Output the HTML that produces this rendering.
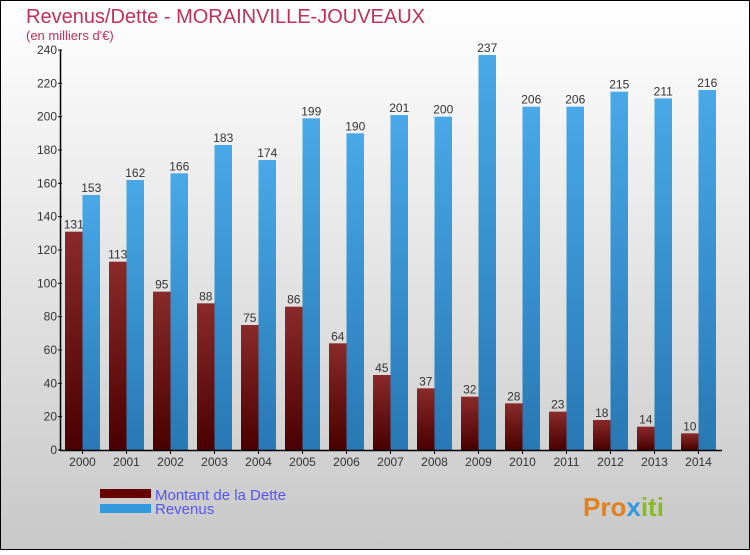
<!DOCTYPE html>
<html><head><meta charset="utf-8"><style>
body{margin:0}
#c{width:750px;height:550px;position:relative;font-family:"Liberation Sans",sans-serif}
</style></head><body>
<div id="c">
<svg width="750" height="550" id="svg">
<defs>
<linearGradient id="bg" x1="0" y1="0" x2="0" y2="1"><stop offset="0" stop-color="#ffffff"/><stop offset="1" stop-color="#c8c8c8"/></linearGradient>
<linearGradient id="gr" x1="0" y1="0" x2="0" y2="1"><stop offset="0" stop-color="#8a2a2a"/><stop offset="1" stop-color="#4a0000"/></linearGradient>
<linearGradient id="gb" x1="0" y1="0" x2="0" y2="1"><stop offset="0" stop-color="#48a8e8"/><stop offset="1" stop-color="#2878b4"/></linearGradient>
</defs>
<rect x="0.5" y="0.5" width="749" height="549" fill="url(#bg)" stroke="#000"/>
<text x="26" y="23" font-size="20" fill="#c0305a">Revenus/Dette - MORAINVILLE-JOUVEAUX</text>
<text x="26" y="40" font-size="13" fill="#c0305a">(en milliers d'€)</text>
<g id="bars"></g>
<g id="axes"></g>
<rect x="100" y="489" width="51" height="9" fill="#660000"/>
<rect x="100" y="504" width="51" height="9" fill="#3399dd"/>
<text x="155" y="500" font-size="15" fill="#5555ee">Montant de la Dette</text>
<text x="155" y="514" font-size="15" fill="#5555ee">Revenus</text>
<text x="583" y="516" font-size="26" font-weight="bold" fill="#e08020">Pro<tspan fill="#3399dd">x</tspan><tspan fill="#88bb22">iti</tspan></text>
</svg></div>
<script>
const years=["2000","2001","2002","2003","2004","2005","2006","2007","2008","2009","2010","2011","2012","2013","2014"];
const dette=[131,113,95,88,75,86,64,45,37,32,28,23,18,14,10];
const revenus=[153,162,166,183,174,199,190,201,200,237,206,206,215,211,216];
const ticks=[0,20,40,60,80,100,120,140,160,180,200,220,240];
const NS="http://www.w3.org/2000/svg";
const y0=450,ppu=400/240,x0=65,step=44,bw=17.5;
const yS=v=>y0-v*ppu;
const bars=document.getElementById('bars'),axes=document.getElementById('axes');
function mk(tag,attrs,parent){const e=document.createElementNS(NS,tag);for(const k in attrs)e.setAttribute(k,attrs[k]);parent.appendChild(e);return e;}
years.forEach((yr,i)=>{
  const xd=x0+i*step,xr=xd+bw;
  const r1=mk('rect',{x:xd,y:yS(dette[i]),width:bw,height:dette[i]*ppu,fill:'url(#gr)'},bars);
  
  
  const r2=mk('rect',{x:xr,y:yS(revenus[i]),width:bw,height:revenus[i]*ppu,fill:'url(#gb)'},bars);
  
  
  const t1=mk('text',{x:xd+bw/2,y:yS(dette[i])-3,'font-size':12,fill:'#333','text-anchor':'middle'},bars);
  t1.textContent=dette[i];
  
  
  const t2=mk('text',{x:xr+bw/2,y:yS(revenus[i])-3,'font-size':12,fill:'#333','text-anchor':'middle'},bars);
  t2.textContent=revenus[i];
  
  
  const tl=mk('text',{x:xr,y:466,'font-size':12,fill:'#333','text-anchor':'middle'},axes);
  tl.textContent=yr;
  
  
  const tk=mk('line',{x1:xr,x2:xr,y1:450,y2:454,stroke:'#000'},axes);
  
  
});
ticks.forEach(v=>{
  const t=mk('text',{x:57,y:yS(v)+4,'font-size':12,fill:'#333','text-anchor':'end'},axes);
  t.textContent=v;
  
  
  const l=mk('line',{x1:58,x2:62,y1:yS(v),y2:yS(v),stroke:'#000'},axes);
  
  
});
const ya=mk('line',{x1:60.5,x2:60.5,y1:50,y2:451,stroke:'#000','stroke-width':1.5},axes);


const xa=mk('line',{x1:60,x2:722,y1:450.5,y2:450.5,stroke:'#000','stroke-width':1.5},axes);


</script>
</body></html>
